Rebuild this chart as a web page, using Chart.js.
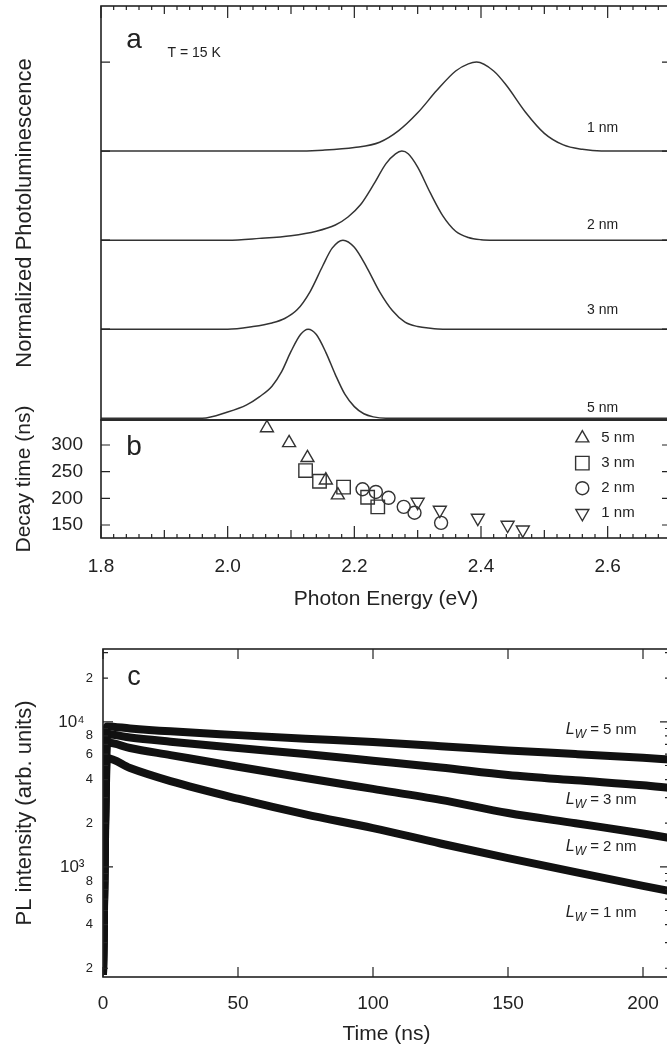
<!DOCTYPE html>
<html>
<head>
<meta charset="utf-8">
<script src="https://cdn.jsdelivr.net/npm/chart.js@4.4.1/dist/chart.umd.min.js"></script>
<style>
  html, body { margin: 0; padding: 0; width: 667px; height: 1050px; overflow: hidden; background: #fff; }
  canvas { position: absolute; left: 0; }
  #spectra { top: 0; }
  #decay { top: 380px; }
  #transients { top: 630px; }
</style>
</head>
<body>
<canvas id="spectra" width="690" height="421"></canvas>
<canvas id="decay" width="690" height="235"></canvas>
<canvas id="transients" width="690" height="420"></canvas>
<script>
const FONT = "'Liberation Sans', Arial, sans-serif";
const INK = "#222";
const LINE = "#333";

// ---- panel a: normalised PL spectra, T = 15 K (energy in eV, peak = 1) ----
const wells = ["1 nm", "2 nm", "3 nm", "5 nm"];
const energy1nm = [1.80, 2.10, 2.15, 2.20, 2.24, 2.27, 2.30, 2.33, 2.36, 2.38, 2.393, 2.42, 2.44, 2.47, 2.50, 2.53, 2.56, 2.59, 2.70];
const pl1nm     = [0, 0, 0.01, 0.04, 0.10, 0.23, 0.43, 0.68, 0.90, 0.98, 1.00, 0.90, 0.74, 0.44, 0.20, 0.07, 0.02, 0, 0];
const energy2nm = [1.80, 2.00, 2.05, 2.10, 2.14, 2.17, 2.19, 2.21, 2.23, 2.25, 2.265, 2.275, 2.285, 2.30, 2.32, 2.34, 2.36, 2.38, 2.40, 2.42, 2.70];
const pl2nm     = [0, 0, 0.02, 0.05, 0.10, 0.17, 0.26, 0.40, 0.62, 0.86, 0.97, 1.00, 0.97, 0.82, 0.53, 0.27, 0.10, 0.03, 0.005, 0, 0];
const energy3nm = [1.80, 2.00, 2.04, 2.07, 2.09, 2.11, 2.13, 2.15, 2.165, 2.182, 2.20, 2.22, 2.24, 2.26, 2.28, 2.30, 2.32, 2.34, 2.70];
const pl3nm     = [0, 0, 0.03, 0.07, 0.12, 0.22, 0.42, 0.71, 0.91, 1.00, 0.92, 0.69, 0.42, 0.21, 0.08, 0.03, 0.01, 0, 0];
const energy5nm = [1.80, 1.96, 2.00, 2.03, 2.05, 2.07, 2.085, 2.10, 2.115, 2.127, 2.14, 2.155, 2.17, 2.185, 2.20, 2.215, 2.23, 2.25, 2.70];
const pl5nm     = [0, 0, 0.07, 0.15, 0.24, 0.36, 0.52, 0.75, 0.94, 1.00, 0.94, 0.74, 0.49, 0.27, 0.13, 0.05, 0.015, 0, 0];
const offsets = [3, 2, 1, 0];

// ---- panel b: decay time (ns) vs photon energy (eV) ----
const bEnergy5nm = [2.062, 2.097, 2.126, 2.155, 2.174];
const bDecay5nm  = [332, 304, 276, 234, 206];
const bEnergy3nm = [2.123, 2.145, 2.183, 2.221, 2.237];
const bDecay3nm  = [252, 232, 221, 202, 184];
const bEnergy2nm = [2.213, 2.234, 2.254, 2.278, 2.295, 2.337];
const bDecay2nm  = [217, 212, 201, 184, 173, 154];
const bEnergy1nm = [2.300, 2.335, 2.395, 2.442, 2.466];
const bDecay1nm  = [193, 178, 163, 150, 141];

// ---- panel c: PL transients (arb. units) ----
const time      = [0, 1.5, 10, 25, 50, 75, 100, 125, 150, 175, 200, 210];
const decay5nm  = [180, 9300, 9000, 8600, 8100, 7650, 7250, 6800, 6350, 6000, 5650, 5500];
const decay3nm  = [180, 8200, 7800, 7300, 6600, 6000, 5400, 4850, 4300, 3950, 3650, 3500];
const decay2nm  = [180, 7200, 6600, 5900, 4900, 4100, 3450, 2900, 2350, 2000, 1700, 1580];
const decay1nm  = [180, 5600, 4800, 3900, 2950, 2300, 1850, 1450, 1150, 920, 740, 680];

// tick labels
const energyTicks = [1.8, 2.0, 2.2, 2.4, 2.6];
const decayTicks = [150, 200, 250, 300];
const timeTicks = [0, 50, 100, 150, 200];
const intensityTicks = [200, 400, 600, 800, 1000, 2000, 4000, 6000, 8000, 10000, 20000];
const intensityTickLabels = ["2", "4", "6", "8", "10³\u2002", "2", "4", "6", "8", "10⁴\u2002", "2"];

const xy = (xs, ys) => xs.map((x, i) => ({ x, y: ys[i] }));
// fixed axis sizes; drop the label overhang padding so the plot areas line up
const fixedWidth = w => s => { s.width = w; s.paddingTop = 0; s.paddingBottom = 0; };
const fixedHeight = h => s => { s.height = h; s.paddingLeft = 0; s.paddingRight = 0; };
const f = (size, style) => ({ family: FONT, size, style: style || "normal" });
const css = (size, style) => (style ? style + " " : "") + size + "px " + FONT;

// inward ticks + box round the plot area
const framePlugin = {
  id: "frame",
  afterDraw(chart, args, o) {
    const { ctx, chartArea: a } = chart;
    const xs = chart.scales.x, ys = chart.scales.y;
    ctx.save();
    ctx.strokeStyle = INK;
    ctx.lineWidth = 1.2;
    ctx.beginPath();
    for (const [v, len] of o.xTicks || []) {
      if (v < xs.min || v > xs.max) continue;
      const px = xs.getPixelForValue(v);
      if (o.xSides.includes("top")) { ctx.moveTo(px, a.top); ctx.lineTo(px, a.top + len); }
      if (o.xSides.includes("bottom")) { ctx.moveTo(px, a.bottom); ctx.lineTo(px, a.bottom - len); }
    }
    for (const [v, len] of o.yTicks || []) {
      if (v < ys.min || v > ys.max) continue;
      const py = ys.getPixelForValue(v);
      ctx.moveTo(a.left, py); ctx.lineTo(a.left + len, py);
      ctx.moveTo(a.right, py); ctx.lineTo(a.right - len, py);
    }
    ctx.stroke();
    ctx.lineWidth = o.border || 1.6;
    ctx.strokeRect(a.left, a.top, a.right - a.left, a.bottom - a.top);
    ctx.restore();
  }
};

// text notes and legend markers placed in data coordinates
const notesPlugin = {
  id: "notes",
  afterDraw(chart, args, opts) {
    const { ctx } = chart;
    const xs = chart.scales.x, ys = chart.scales.y;
    ctx.save();
    ctx.fillStyle = INK;
    ctx.textBaseline = "middle";
    for (const n of opts.items || []) {
      let px = xs.getPixelForValue(n.x), py = ys.getPixelForValue(n.y);
      if (n.marker) {
        ctx.save();
        ctx.strokeStyle = LINE;
        ctx.fillStyle = "rgba(0,0,0,0)";
        ctx.lineWidth = 1.4;
        Chart.helpers.drawPoint(ctx, Object.assign({ borderWidth: 1.4 }, n.marker), px, py);
        ctx.restore();
        continue;
      }
      const parts = n.parts || [{ text: n.text, font: n.font }];
      let w = 0;
      parts.forEach(p => { ctx.font = p.font; w += ctx.measureText(p.text).width; });
      if (n.align === "center") px -= w / 2;
      ctx.textAlign = "left";
      parts.forEach(p => {
        ctx.font = p.font;
        ctx.fillText(p.text, px, py + (p.dy || 0));
        px += ctx.measureText(p.text).width;
      });
    }
    ctx.restore();
  }
};

// minor/major tick marks along the energy axis (0.02 / 0.1 / 0.2 eV)
const energyMarks = [];
for (let i = 0; i <= 45; i++) {
  energyMarks.push([1.8 + i * 0.02, i % 10 === 0 ? 12 : i % 5 === 0 ? 8 : 4]);
}
const intensityMarks = [];
[100, 1000, 10000].forEach(d => {
  for (let k = 1; k <= 9; k++) intensityMarks.push([k * d, k === 1 ? 10 : 5]);
});

const common = {
  responsive: false,
  animation: false,
  events: [],
};
const noGrid = { display: false, drawTicks: false };
const noBorder = { display: false };

// ---------- panel a ----------
const spectra = [
  { e: energy1nm, pl: pl1nm },
  { e: energy2nm, pl: pl2nm },
  { e: energy3nm, pl: pl3nm },
  { e: energy5nm, pl: pl5nm },
];
new Chart(document.getElementById("spectra"), {
  type: "line",
  data: {
    datasets: spectra.map((s, i) => ({
      label: wells[i],
      data: xy(s.e, s.pl.map(v => v + offsets[i])),
      borderColor: LINE,
      borderWidth: 1.5,
      pointRadius: 0,
      cubicInterpolationMode: "monotone",
      fill: false,
    })),
  },
  options: {
    ...common,
    layout: { padding: { top: 6, right: 19, bottom: 1, left: 0 }, autoPadding: false },
    plugins: {
      legend: { display: false },
      tooltip: { enabled: false },
      frame: { xTicks: energyMarks, xSides: ["top"], yTicks: [[1, 9], [2, 9], [3, 9], [4, 9]] },
      notes: {
        items: [
          { x: 1.852, y: 4.24, text: "a", font: css(28), align: "center" },
          { x: 1.947, y: 4.10, text: "T = 15 K", font: css(14), align: "center" },
          { x: 2.592, y: 3.26, text: wells[0], font: css(14), align: "center" },
          { x: 2.592, y: 2.17, text: wells[1], font: css(14), align: "center" },
          { x: 2.592, y: 1.21, text: wells[2], font: css(14), align: "center" },
          { x: 2.592, y: 0.11, text: wells[3], font: css(14), align: "center" },
        ],
      },
    },
    scales: {
      x: { type: "linear", display: false, min: 1.8, max: 2.7 },
      y: {
        type: "linear", min: -0.02, max: 4.63,
        afterFit: fixedWidth(101),
        grid: noGrid, border: noBorder,
        ticks: { display: false },
        title: { display: true, text: "Normalized Photoluminescence", color: INK, font: f(22), padding: { top: 12, bottom: 0 } },
      },
    },
  },
  plugins: [framePlugin, notesPlugin],
});

// ---------- panel b ----------
const decaySets = [
  { label: "5 nm", e: bEnergy5nm, t: bDecay5nm, style: "triangle", rot: 0, r: 7.5 },
  { label: "3 nm", e: bEnergy3nm, t: bDecay3nm, style: "rect", rot: 0, r: 9.5 },
  { label: "2 nm", e: bEnergy2nm, t: bDecay2nm, style: "circle", rot: 0, r: 6.5 },
  { label: "1 nm", e: bEnergy1nm, t: bDecay1nm, style: "triangle", rot: 180, r: 7.5 },
];
const legendY = [313, 266, 219, 172];
const legendItems = [];
decaySets.forEach((s, i) => {
  legendItems.push({ x: 2.560, y: legendY[i], marker: { pointStyle: s.style, rotation: s.rot, radius: s.r } });
  legendItems.push({ x: 2.590, y: legendY[i], text: s.label, font: css(15) });
});
legendItems.push({ x: 1.852, y: 296, text: "b", font: css(28), align: "center" });

new Chart(document.getElementById("decay"), {
  type: "scatter",
  data: {
    datasets: decaySets.map(s => ({
      label: s.label,
      data: xy(s.e, s.t),
      pointStyle: s.style,
      rotation: s.rot,
      pointRadius: s.r,
      pointBorderColor: LINE,
      pointBackgroundColor: "rgba(0,0,0,0)",
      pointBorderWidth: 1.4,
      showLine: false,
    })),
  },
  options: {
    ...common,
    // canvas starts above panel b so the rotated y title has room
    layout: { padding: { top: 40, right: 19, bottom: 0, left: 0 }, autoPadding: false },
    plugins: {
      legend: { display: false },
      tooltip: { enabled: false },
      frame: { xTicks: energyMarks, xSides: ["bottom"], yTicks: decayTicks.map(v => [v, 9]) },
      notes: { items: legendItems },
    },
    scales: {
      x: {
        type: "linear", min: 1.8, max: 2.7,
        afterFit: fixedHeight(77),
        afterBuildTicks: s => { s.ticks = energyTicks.map(v => ({ value: v })); },
        grid: noGrid, border: noBorder,
        ticks: { callback: v => v.toFixed(1), padding: 17, color: INK, font: f(19), maxRotation: 0, autoSkip: false },
        title: { display: true, text: "Photon Energy (eV)", color: INK, font: f(21), padding: { top: 0, bottom: 3 } },
      },
      y: {
        type: "linear", min: 125.6, max: 346.9,
        afterFit: fixedWidth(101),
        afterBuildTicks: s => { s.ticks = decayTicks.map(v => ({ value: v })); },
        grid: noGrid, border: noBorder,
        ticks: { padding: 18, color: INK, font: f(19), autoSkip: false },
        title: { display: true, text: "Decay time (ns)", color: INK, font: f(21), padding: { top: 12, bottom: 0 } },
      },
    },
  },
  plugins: [framePlugin, notesPlugin],
});

// ---------- panel c ----------
const transients = [decay5nm, decay3nm, decay2nm, decay1nm];
const lwY = [8807, 2898, 1376, 481];
const lwItems = ["5", "3", "2", "1"].map((w, i) => ({
  x: 171.4, y: lwY[i],
  parts: [
    { text: "L", font: css(16, "italic") },
    { text: "W", font: css(12, "italic"), dy: 5 },
    { text: " = " + w + " nm", font: css(15) },
  ],
}));
lwItems.push({ x: 11.5, y: 20100, text: "c", font: css(27), align: "center" });

new Chart(document.getElementById("transients"), {
  type: "line",
  data: {
    datasets: transients.map((d, i) => ({
      label: wells[3 - i],
      data: xy(time, d),
      borderColor: "#111",
      borderWidth: 8,
      pointRadius: 0,
      cubicInterpolationMode: "monotone",
      fill: false,
    })),
  },
  options: {
    ...common,
    layout: { padding: { top: 19, right: 20, bottom: 0, left: 0 }, autoPadding: false },
    plugins: {
      legend: { display: false },
      tooltip: { enabled: false },
      frame: { xTicks: timeTicks.map(v => [v, 10]), xSides: ["top", "bottom"], yTicks: intensityMarks },
      notes: { items: lwItems },
    },
    scales: {
      x: {
        type: "linear", min: 0, max: 210,
        afterFit: fixedHeight(73),
        afterBuildTicks: s => { s.ticks = timeTicks.map(v => ({ value: v })); },
        grid: noGrid, border: noBorder,
        ticks: { padding: 15, color: INK, font: f(19), maxRotation: 0, autoSkip: false },
        title: { display: true, text: "Time (ns)", color: INK, font: f(21), padding: { top: 0, bottom: 3 } },
      },
      y: {
        type: "logarithmic", min: 174, max: 31800,
        afterFit: fixedWidth(103),
        afterBuildTicks: s => { s.ticks = intensityTicks.map(v => ({ value: v })); },
        grid: noGrid, border: noBorder,
        ticks: {
          padding: 10, color: INK, autoSkip: false,
          callback: (v, i) => intensityTickLabels[i],
          font: c => f(intensityTickLabels[c.index] && intensityTickLabels[c.index].startsWith("10") ? 17 : 13),
        },
        title: { display: true, text: "PL intensity (arb. units)", color: INK, font: f(22), padding: { top: 12, bottom: 0 } },
      },
    },
  },
  plugins: [framePlugin, notesPlugin],
});
</script>
</body>
</html>
